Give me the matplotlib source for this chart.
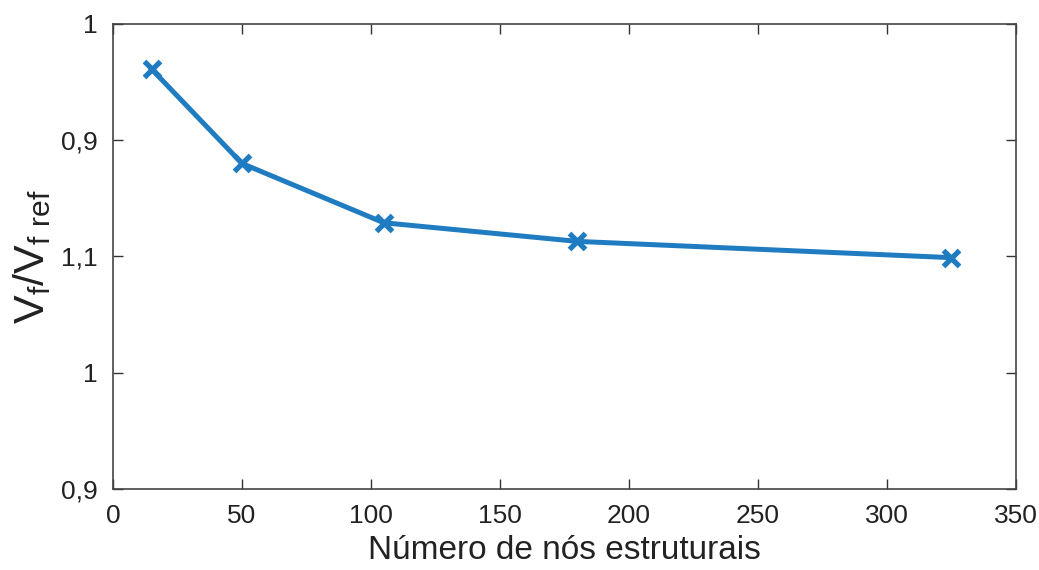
import matplotlib.pyplot as plt

plt.rcParams['font.family'] = ['Liberation Sans', 'DejaVu Sans']
plt.rcParams['mathtext.fontset'] = 'custom'
plt.rcParams['mathtext.rm'] = 'Liberation Sans'

nodes = [15, 50, 105, 180, 325]
vf_ratio = [1.261, 1.180, 1.129, 1.113, 1.099]

y_ticks = [0.9, 1.0, 1.1, 1.2, 1.3]
y_tick_labels = ['0,9', '1', '1,1', '0,9', '1']
x_ticks = [0, 50, 100, 150, 200, 250, 300, 350]

fig = plt.figure(figsize=(10.39, 5.7), dpi=100)
ax = fig.add_axes([0.1088, 0.142, 0.869, 0.816])

ax.plot(nodes, vf_ratio, color='#1f7cc1', lw=3.6, marker='x',
        markersize=11, markeredgewidth=3.8)

ax.set_xlim(0, 350)
ax.set_ylim(0.9, 1.3)
ax.set_xticks(x_ticks)
ax.set_yticks(y_ticks)
ax.set_yticklabels(y_tick_labels)
ax.tick_params(direction='in', top=True, right=True, length=7, width=1,
               labelsize=19, pad=11, colors='#333333', labelcolor='#222222')
for s in ax.spines.values():
    s.set_color('#444444')
    s.set_linewidth(1.2)

ax.set_xlabel('Número de nós estruturais', fontsize=24, color='#222222', labelpad=5)
ax.set_ylabel(r'$\mathregular{V_f/V_{f\ ref}}$', fontsize=31, color='#222222', labelpad=6)

fig.savefig('out.png', dpi=100)
